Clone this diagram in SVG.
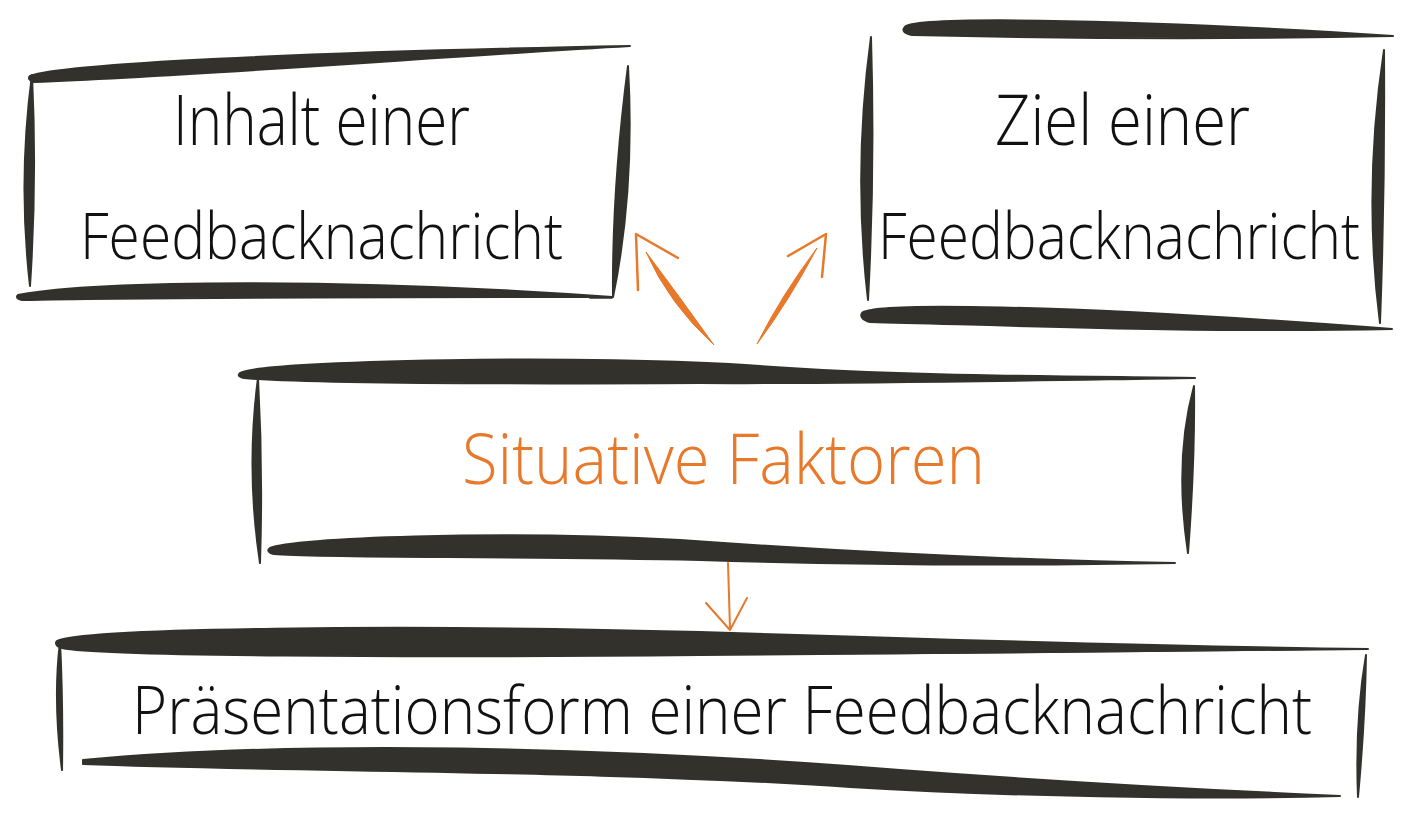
<svg xmlns="http://www.w3.org/2000/svg" width="1409" height="822" viewBox="0 0 1409 822">
<style>
.brush{fill:#32312c;stroke:#32312c;stroke-width:2;stroke-linejoin:round}
.thin{fill:none;stroke:#32312c;stroke-width:1.5;stroke-linecap:round}
.lbl{font-family:"Open Sans","Liberation Sans",sans-serif;font-weight:300;fill:#111}
.org{fill:#e8782a}
.oline{fill:none;stroke:#e8782a;stroke-width:2.5;stroke-linecap:round;stroke-linejoin:round}
.obrush{fill:#e8782a;stroke:#e8782a;stroke-width:1;stroke-linejoin:round}
</style>
<rect width="1409" height="822" fill="#ffffff"/>
<g id="node-inhalt">
<path class="brush" d="M30,76 C60,64 300,52 630,46 C450,56 200,76 34,82 C29,81 28,78 30,76 Z"/>
<path class="brush" d="M32,75 Q18,180 30,286 Q37,180 32,75 Z"/>
<path class="brush" d="M628,66 Q612,190 613,297 Q635,190 628,66 Z"/>
<path class="brush" d="M18,295 C100,280 350,278 612,297 C400,297 150,297 22,300 C17,299 16,297 18,295 Z"/>
<path class="thin" d="M590,298 L612,298"/>
<text class="lbl" x="173" y="145" font-size="70" textLength="297" lengthAdjust="spacingAndGlyphs">Inhalt einer</text>
<text class="lbl" x="80" y="259" font-size="64" textLength="483" lengthAdjust="spacingAndGlyphs">Feedbacknachricht</text>
</g>
<g id="node-ziel">
<path class="brush" d="M905,27 C910,17 1100,17 1393,36 C1200,40 1000,37 912,35 C903,33 902,30 905,27 Z"/>
<path class="brush" d="M871,37 Q853,170 868,300 Q875,170 871,37 Z"/>
<path class="brush" d="M1384,50 Q1363,190 1380,323 Q1385,190 1384,50 Z"/>
<path class="brush" d="M862,313 C870,303 1050,303 1392,329 C1200,333 1000,325 870,322 C862,320 860,316 862,313 Z"/>
<text class="lbl" x="995" y="145" font-size="70" textLength="255" lengthAdjust="spacingAndGlyphs">Ziel einer</text>
<text class="lbl" x="878" y="259" font-size="64" textLength="482" lengthAdjust="spacingAndGlyphs">Feedbacknachricht</text>
</g>
<g id="node-situative">
<path class="brush" d="M240,373 C260,360 600,354 760,366 C900,376 1050,376 1195,378 C1000,381 850,384 700,383 C500,384 300,383 244,378 C238,377 238,375 240,373 Z"/>
<path class="brush" d="M258,378 Q246,470 260,563 Q263,470 258,378 Z"/>
<path class="brush" d="M1194,386 Q1174,460 1188,553 Q1195,460 1194,386 Z"/>
<path class="brush" d="M270,548 C290,538 500,530 680,540 C850,552 1000,560 1175,563 C1000,566 850,565 700,560 C500,556 320,558 274,554 C268,553 267,550 270,548 Z"/>
<text class="lbl org" x="462" y="484" font-size="70" textLength="523" lengthAdjust="spacingAndGlyphs">Situative Faktoren</text>
</g>
<g id="node-praesentation">
<path class="brush" d="M57,641 C80,628 400,624 700,632 C950,640 1200,647 1368,649 C1200,652 950,654 700,655 C400,658 100,656 62,648 C56,647 55,643 57,641 Z"/>
<path class="brush" d="M60,642 Q53,700 62,770 Q63,700 60,642 Z"/>
<path class="brush" d="M1366,655 Q1355,720 1358,797 Q1365,720 1366,655 Z"/>
<path class="brush" d="M83,760 C300,740 600,746 900,770 C1100,785 1250,792 1340,796 C1200,800 1000,796 850,787 C600,770 300,772 83,764 Z"/>
<text class="lbl" x="132" y="734" font-size="67" textLength="1180" lengthAdjust="spacingAndGlyphs">Präsentationsform einer Feedbacknachricht</text>
</g>
<g id="connectors">
<path class="obrush" d="M646,252 Q679,296 714,345 Q669,304 646,252 Z"/>
<path class="oline" d="M678,258 L636,234 L638,290"/>
<path class="obrush" d="M817,248 Q789,301 757,344 Q781,296 817,248 Z"/>
<path class="oline" d="M788,256 L826,234 L822,277"/>
<path class="oline" d="M728,563 Q729,596 730,629" style="stroke-width:2"/>
<path class="oline" d="M706,603 L730,630 L747,598" style="stroke-width:2"/>
</g>
</svg>
